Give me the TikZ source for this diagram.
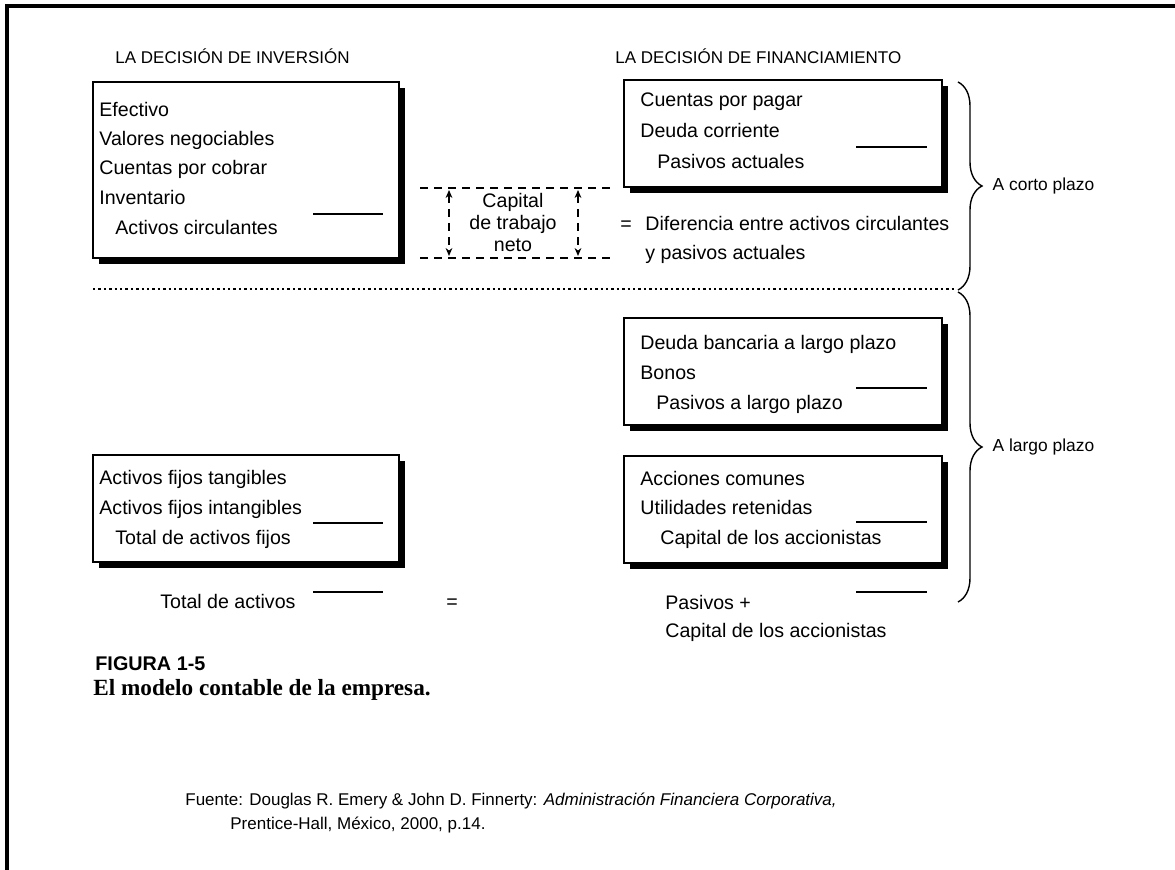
\documentclass[tikz,border=0pt]{standalone}
\usepackage{fontspec}
\setmainfont{Liberation Sans}
\newfontfamily\captionserif{Liberation Serif}
\usetikzlibrary{arrows.meta, positioning, fit, shadows, decorations.pathreplacing}

\begin{document}
\begin{tikzpicture}[
    x=0.5pt, y=-0.5pt,
    >={Stealth[length=4pt, width=3.4pt]},
    font=\fontsize{9.8}{11}\selectfont,
    % Define styles
    acct/.style={rectangle, draw=black, line width=0.8pt, fill=white, inner sep=0pt,
        drop shadow={shadow xshift=2.8pt, shadow yshift=-2.8pt, opacity=1, fill=black}},
    item/.style={anchor=mid west, inner sep=0pt},
    heading/.style={anchor=mid west, inner sep=0pt, font=\fontsize{8.5}{10}\selectfont},
    sumline/.style={line width=0.7pt},
    guide/.style={dash pattern=on 4pt off 3pt, line width=0.6pt},
    brace/.style={decorate, decoration={brace, amplitude=12pt}, line width=0.7pt},
    side/.style={right=17pt, inner sep=0pt, font=\fontsize{8.7}{10}\selectfont}
]
\useasboundingbox (0,0) rectangle (1175,870);

% Frame
\draw[line width=1.75pt] (1175,6) -- (7,6) -- (7,870);

% 1. Headings
\node[heading] (hinv) at (115,58) {LA DECISIÓN DE INVERSIÓN};
\node[heading] (hfin) at (615,58) {LA DECISIÓN DE FINANCIAMIENTO};

% 2. Current assets
\node[acct, fit={(93,82) (399,258)}] (circ) {};
\node[item] (efectivo) at (99,111) {Efectivo};
\node[item] (valores) at (99,140) {Valores negociables};
\node[item] (cobrar) at (99,169) {Cuentas por cobrar};
\node[item] (inventario) at (99,199) {Inventario};
\node[item] (actcirc) at (115,229) {Activos circulantes};
\draw[sumline] (313,214) -- (383,214);

% 3. Current liabilities
\node[acct, fit={(624,80) (942,187)}] (pasact) {};
\node[item] (pagar) at (640,101) {Cuentas por pagar};
\node[item] (corriente) at (640,132) {Deuda corriente};
\node[item] (pasivosact) at (657,163) {Pasivos actuales};
\draw[sumline] (856,147) -- (927,147);

% 4. Net working capital
\coordinate (gl1) at (420,188);
\coordinate (gr1) at (612,188);
\coordinate (gl2) at (420,258);
\coordinate (gr2) at (612,258);
\draw[guide] (gl1) -- (gr1);
\draw[guide] (gl2) -- (gr2);
\coordinate (al1) at (449,190);
\coordinate (al2) at (449,256);
\coordinate (ar1) at (578,190);
\coordinate (ar2) at (578,256);
\draw[guide, <->] (al1) -- (al2);
\draw[guide, <->] (ar1) -- (ar2);
\node[align=center, inner sep=0pt] (ctn) at (513,223) {Capital\\de trabajo\\neto};
\node[item] (eq1) at (620,225) {=};
\node[item] (difer) at (645,225) {Diferencia entre activos circulantes};
\node[item] (difer2) at (645,254) {y pasivos actuales};

% Separator
\draw[line width=0.8pt, dash pattern=on 1.2pt off 1.5pt] (93,289) -- (955,289);

% 5. Long-term liabilities
\node[acct, fit={(624,318) (942,425)}] (deuda) {};
\node[item] (bancaria) at (640,344) {Deuda bancaria a largo plazo};
\node[item] (bonos) at (640,374) {Bonos};
\node[item] (pasivoslp) at (656,404) {Pasivos a largo plazo};
\draw[sumline] (856,388) -- (927,388);

% 6. Equity
\node[acct, fit={(624,456) (942,563)}] (capital) {};
\node[item] (acciones) at (640,480) {Acciones comunes};
\node[item] (utilidades) at (640,509) {Utilidades retenidas};
\node[item] (capacc) at (660,539) {Capital de los accionistas};
\draw[sumline] (856,522) -- (927,522);

% 7. Fixed assets
\node[acct, fit={(93,455) (399,562)}] (fijos) {};
\node[item] (tangibles) at (99,479) {Activos fijos tangibles};
\node[item] (intangibles) at (99,509) {Activos fijos intangibles};
\node[item] (totfijos) at (115,539) {Total de activos fijos};
\draw[sumline] (313,523) -- (383,523);

% 8. Totals
\node[item] (totact) at (160,603) {Total de activos};
\draw[sumline] (313,592) -- (383,592);
\node[inner sep=0pt] (eq2) at (452,604) {=};
\draw[sumline] (856,592) -- (927,592);
\node[item] (pasmas) at (665,604) {Pasivos +};
\node[item] (captot) at (665,632) {Capital de los accionistas};

% 9. Braces
\draw[brace] (958,82) -- node[side] (corto) {A corto plazo} (958,290);
\draw[brace] (958,292) -- node[side] (largo) {A largo plazo} (958,602);

% 10. Caption and source
\node[item, font=\fontsize{9.9}{11}\selectfont\bfseries] (fig) at (95,665) {FIGURA 1-5};
\node[item, font=\fontsize{11.6}{13}\selectfont\captionserif\bfseries] (titulo) at (93,690) {El modelo contable de la empresa.};
\node[item, font=\fontsize{8.5}{10}\selectfont] (fuente) at (185,800) {Fuente: Douglas R. Emery \& John D. Finnerty: \textit{Administración Financiera Corporativa,}};
\node[item, font=\fontsize{8.5}{10}\selectfont] (editorial) at (230,824) {Prentice-Hall, México, 2000, p.14.};

\end{tikzpicture}
\end{document}
